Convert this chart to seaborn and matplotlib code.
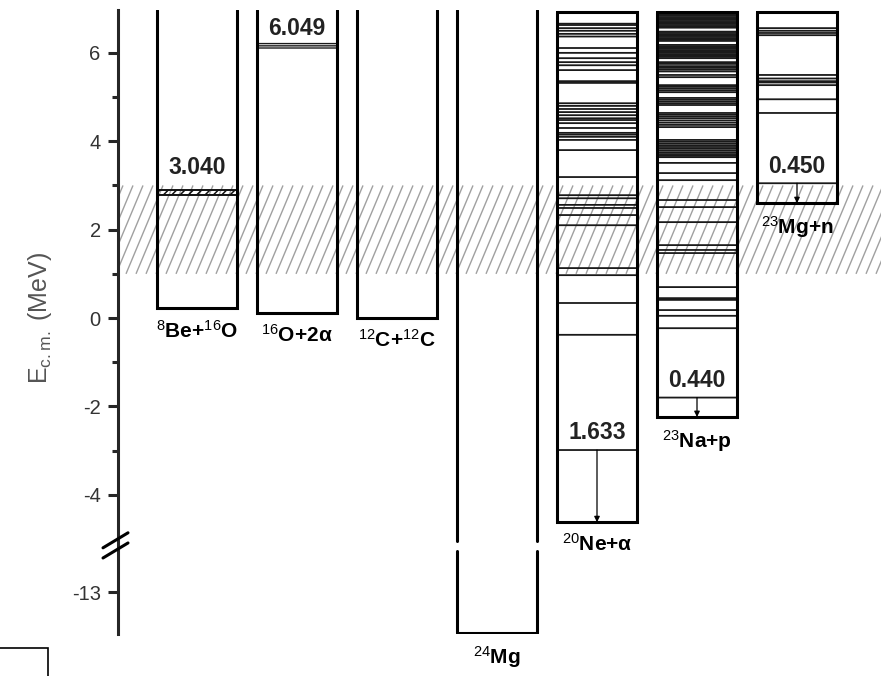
import numpy as np
import matplotlib
matplotlib.use("Agg")
import matplotlib.pyplot as plt
from matplotlib.patches import Rectangle
from matplotlib.collections import LineCollection
import seaborn as sns

# ---------------------------------------------------------------- data
# reaction channels, left to right
channels = [r"$^{8}$Be+$^{16}$O", r"$^{16}$O+2α", r"$^{12}$C+$^{12}$C", r"$^{24}$Mg",
            r"$^{20}$Ne+α", r"$^{23}$Na+p", r"$^{23}$Mg+n"]
# channel thresholds, E_cm relative to 12C+12C (MeV)
thresholds = [0.22, 0.11, 0.0, -13.93, -4.62, -2.24, 2.60]
closed_top = [False, False, False, False, True, True, True]

# level energies (E_cm, MeV) drawn inside the channel boxes
o16_levels = [6.11, 6.21]
ne20_levels = [6.66, 6.63, 6.56, 6.50, 6.43, 6.37, 6.11, 6.00, 5.88, 5.79, 5.72,
               5.61, 5.36, 5.32, 4.86, 4.80, 4.73, 4.66, 4.59, 4.52, 4.48, 4.41,
               4.30, 4.19, 4.15, 4.10, 4.03, 3.80, 3.19, 2.78, 2.71, 2.56, 2.49,
               2.33, 2.10, 1.13, 0.97, 0.34, -0.38]
na23_levels = [6.90, 6.87, 6.84, 6.81, 6.78, 6.75, 6.72, 6.69, 6.66, 6.63, 6.60,
               6.57, 6.48, 6.45, 6.42, 6.39, 6.36, 6.33, 6.30, 6.27, 6.18, 6.15,
               6.12, 6.09, 6.06, 6.03, 6.00, 5.97, 5.94, 5.91, 5.88, 5.79, 5.75,
               5.70, 5.66, 5.62, 5.58, 5.50, 5.45, 5.27, 5.23, 5.19, 5.15, 5.11,
               4.98, 4.94, 4.90, 4.86, 4.82, 4.64, 4.60, 4.56, 4.52, 4.47, 4.42,
               4.37, 4.32, 4.03, 3.99, 3.95, 3.91, 3.87, 3.83, 3.79, 3.75, 3.71,
               3.67, 3.64, 3.51, 3.28, 3.12, 2.67, 2.51, 2.17, 1.65, 1.54, 1.47,
               0.70, 0.45, 0.41, 0.18, 0.05, -0.23]
mg23_levels = [6.56, 6.50, 6.45, 6.40, 5.50, 5.42, 5.36, 5.33, 5.27, 4.95, 4.64]
channel_levels = {1: o16_levels, 4: ne20_levels, 5: na23_levels, 6: mg23_levels}

# broad 8Be(2+) band in the 8Be+16O channel
be8_band = [2.78, 2.90]
be8_label = 3.040

# labelled states: channel index and excitation energy above threshold (MeV)
state_channel = [1, 4, 5, 6]
state_energy = [6.049, 1.633, 0.440, 0.450]
state_arrow = [False, True, True, True]

# energy window of interest (hatched)
window = [1.0, 3.0]

ytick_values = [6, 4, 2, 0, -2, -4, -13]
ytick_labels = ["6", "4", "2", "0", "-2", "-4", "-13"]
yminor_values = [5, 3, 1, -1, -3]

# ---------------------------------------------------------------- style
sns.set_style("white")
plt.rcParams["font.family"] = ["Liberation Sans", "DejaVu Sans"]
plt.rcParams["mathtext.fontset"] = "custom"
plt.rcParams["mathtext.rm"] = "Liberation Sans"
plt.rcParams["mathtext.it"] = "Liberation Sans:italic"
plt.rcParams["mathtext.bf"] = "Liberation Sans:bold"
plt.rcParams["hatch.linewidth"] = 1.1

# broken energy axis: everything below BREAK is moved up by SHIFT
BREAK, SHIFT = -6.0, 6.8


def ypos(e):
    e = np.asarray(e, dtype=float)
    return np.where(e < BREAK, e + SHIFT, e)


BOX_LW = 2.2
LEVEL_LW = 1.3
LEVEL_COLOR = "#1a1a1a"
HALF = 0.40
Y_TOP = 6.97
Y_CLOSED = 6.92
GAP = (-5.27, -5.04)  # gap in the 24Mg box at the axis break

fig = plt.figure(figsize=(8.81, 6.76), dpi=100)
ax = fig.add_axes([118 / 881, 42 / 676, 763 / 881, 624 / 676])
ax.set_xlim(-0.79, 6.84)
ax.set_ylim(float(ypos(-13.93)) - 0.02, Y_TOP)

# hatched window
x_lo, x_hi = ax.get_xlim()
run = 0.37
starts = np.arange(x_lo - run - 0.05, x_hi + 0.1, 0.10)
segs = [[(s, window[0]), (s + run, window[1])] for s in starts]
hatch = LineCollection(segs, colors="#a0a0a0", linewidths=1.0, zorder=1)
clip = Rectangle((x_lo, window[0]), x_hi - x_lo, window[1] - window[0],
                 transform=ax.transData, facecolor="none", edgecolor="none")
ax.add_patch(clip)
hatch.set_clip_path(clip)
ax.add_collection(hatch)

# channel boxes
for i, thr in enumerate(thresholds):
    x0, x1 = i - HALF, i + HALF
    yb = float(ypos(thr))
    top = Y_CLOSED if closed_top[i] else Y_TOP
    if thr < BREAK:
        ax.plot([x0, x0], [top, GAP[1]], color="k", lw=BOX_LW, zorder=4)
        ax.plot([x1, x1], [top, GAP[1]], color="k", lw=BOX_LW, zorder=4)
        ax.plot([x0, x0, x1, x1], [GAP[0], yb, yb, GAP[0]], color="k",
                lw=BOX_LW, zorder=4)
    elif closed_top[i]:
        ax.plot([x0, x0, x1, x1, x0], [top, yb, yb, top, top], color="k",
                lw=BOX_LW, zorder=4, solid_joinstyle="miter")
    else:
        ax.plot([x0, x0, x1, x1], [top, yb, yb, top], color="k",
                lw=BOX_LW, zorder=4, solid_joinstyle="miter")
    ax.annotate(channels[i], xy=(i, yb), xytext=(0, -8), textcoords="offset points",
                ha="center", va="top", fontsize=15, fontweight="bold", color="k")

# levels
for i, levels in channel_levels.items():
    lw = 1.0 if i == 1 else LEVEL_LW
    lc = ax.hlines(ypos(levels), i - HALF, i + HALF, colors=LEVEL_COLOR, lw=lw,
                   zorder=3)
    lc.set_snap(False)

# broad 8Be state
ax.fill_between([-HALF, HALF], be8_band[0], be8_band[1], facecolor="none",
                edgecolor="#111111", hatch="////", linewidth=0, zorder=3)
ax.hlines(be8_band, -HALF, HALF, colors="#111111", lw=1.4, zorder=3)
ax.annotate(f"{be8_label:.3f}", xy=(0, be8_band[1]), xytext=(0, 8),
            textcoords="offset points", ha="center", va="bottom",
            fontsize=16.5, fontweight="bold", color="#222222")

# labelled states with decay arrows
for ch, ex, arrow in zip(state_channel, state_energy, state_arrow):
    e = thresholds[ch] + ex
    lc = ax.hlines(e, ch - HALF, ch + HALF, colors=LEVEL_COLOR,
                   lw=1.0 if ch == 1 else LEVEL_LW, zorder=3)
    lc.set_snap(False)
    ax.annotate(f"{ex:.3f}", xy=(ch, e), xytext=(0, 4), textcoords="offset points",
                ha="center", va="bottom", fontsize=16.5, fontweight="bold",
                color="#222222")
    if arrow:
        ax.annotate("", xy=(ch, thresholds[ch]), xytext=(ch, e),
                    arrowprops=dict(arrowstyle="-|>", color="k", lw=0.9,
                                    mutation_scale=8, shrinkA=0, shrinkB=0),
                    zorder=5)

# axis
sns.despine(ax=ax, top=True, right=True, bottom=True, left=False)
ax.spines["left"].set_linewidth(BOX_LW)
ax.set_xticks([])
ax.set_yticks(ypos(ytick_values))
ax.set_yticklabels(ytick_labels)
ax.set_yticks(yminor_values, minor=True)
ax.tick_params(axis="y", which="major", direction="out", length=7, width=BOX_LW,
               pad=5.5, labelsize=14.5, labelcolor="#333333", left=True)
ax.tick_params(axis="y", which="minor", direction="out", length=4.2, width=BOX_LW,
               left=True)
ax.set_ylabel(r"E$_{\rm c.m.}$ (MeV)", fontsize=18, color="#555555",
              ha="center", va="center")
ax.yaxis.set_label_coords((40 - 118) / 763, (634 - 318) / 624)

# axis break marks
for y0, y1 in [(-5.20, -4.86), (-5.43, -5.09)]:
    ax.plot([-0.94, -0.69], [y0, y1], color="k", lw=BOX_LW, clip_on=False,
            zorder=6)

# small frame in the lower-left corner
fig.patches.append(Rectangle((-0.01, -0.01), 48 / 881 + 0.01, 28 / 676 + 0.01,
                             transform=fig.transFigure, fill=False,
                             edgecolor="k", lw=1.2))

fig.savefig("out.png", dpi=100)
